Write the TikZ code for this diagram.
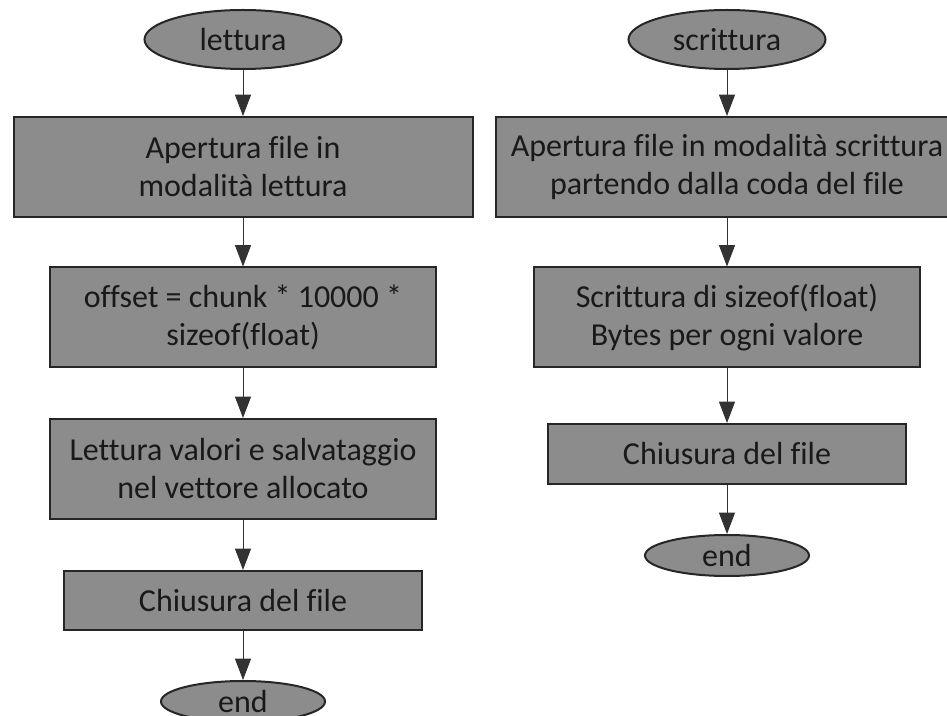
\documentclass[tikz,border=0pt]{standalone}
\usepackage{fontspec}
\setmainfont{Carlito}[RawFeature={-liga;-clig;-calt;-dlig}]
\usepackage{xcolor}
\usepackage{tikz}
\usetikzlibrary{positioning,arrows.meta,shapes.geometric}

\definecolor{boxgray}{RGB}{140,140,140}
\definecolor{edgegray}{RGB}{38,38,38}
\definecolor{linegray}{RGB}{50,50,50}

\begin{document}
\begin{tikzpicture}[
  x=0.75pt, y=-0.75pt,
  font=\fontsize{24}{28.5}\selectfont,
  box/.style={rectangle, draw=edgegray, line width=1.5pt, fill=boxgray, text=black!90, minimum height=75pt, align=center, inner sep=0pt},
  term/.style={ellipse, draw=edgegray, line width=1.5pt, fill=boxgray, text=black!90, inner sep=0pt},
  arr/.style={-{Triangle[length=16pt, width=12pt]}, line width=0.75pt, draw=linegray}
]
\useasboundingbox (0,0) rectangle (947,716);

% lettura
\node[term, minimum width=147.75pt, minimum height=44.25pt] (lett) at (243,39.5) {lettura};
\node[box, minimum width=344.25pt] (apriL) at (243,167) {Apertura file in\\modalità lettura};
\node[box, minimum width=289.5pt] (offset) at (243,317.5) {offset = chunk * 10000 *\\sizeof(float)};
\node[box, minimum width=289.5pt] (leggi) at (243,469) {Lettura valori e salvataggio\\nel vettore allocato};
\node[box, minimum width=268.5pt, minimum height=44.25pt] (chiudiL) at (243,600.5) {Chiusura del file};
\node[term, minimum width=123pt, minimum height=30.75pt] (endL) at (243,701.5) {end};

% scrittura
\node[term, minimum width=147.75pt, minimum height=44.25pt] (scri) at (727,39.5) {scrittura};
\node[box, minimum width=346.5pt] (apriS) at (727,167) {Apertura file in modalità scrittura\\partendo dalla coda del file};
\node[box, minimum width=289.5pt] (scrivi) at (727,317.5) {Scrittura di sizeof(float)\\Bytes per ogni valore};
\node[box, minimum width=268.5pt, minimum height=45pt] (chiudiS) at (727,454) {Chiusura del file};
\node[term, minimum width=123pt, minimum height=30.75pt] (endS) at (727,555.5) {end};

\draw[arr] (lett) -- (apriL);
\draw[arr] (apriL) -- (offset);
\draw[arr] (offset) -- (leggi);
\draw[arr] (leggi) -- (chiudiL);
\draw[arr] (chiudiL) -- (endL);

\draw[arr] (scri) -- (apriS);
\draw[arr] (apriS) -- (scrivi);
\draw[arr] (scrivi) -- (chiudiS);
\draw[arr] (chiudiS) -- (endS);
\end{tikzpicture}
\end{document}
